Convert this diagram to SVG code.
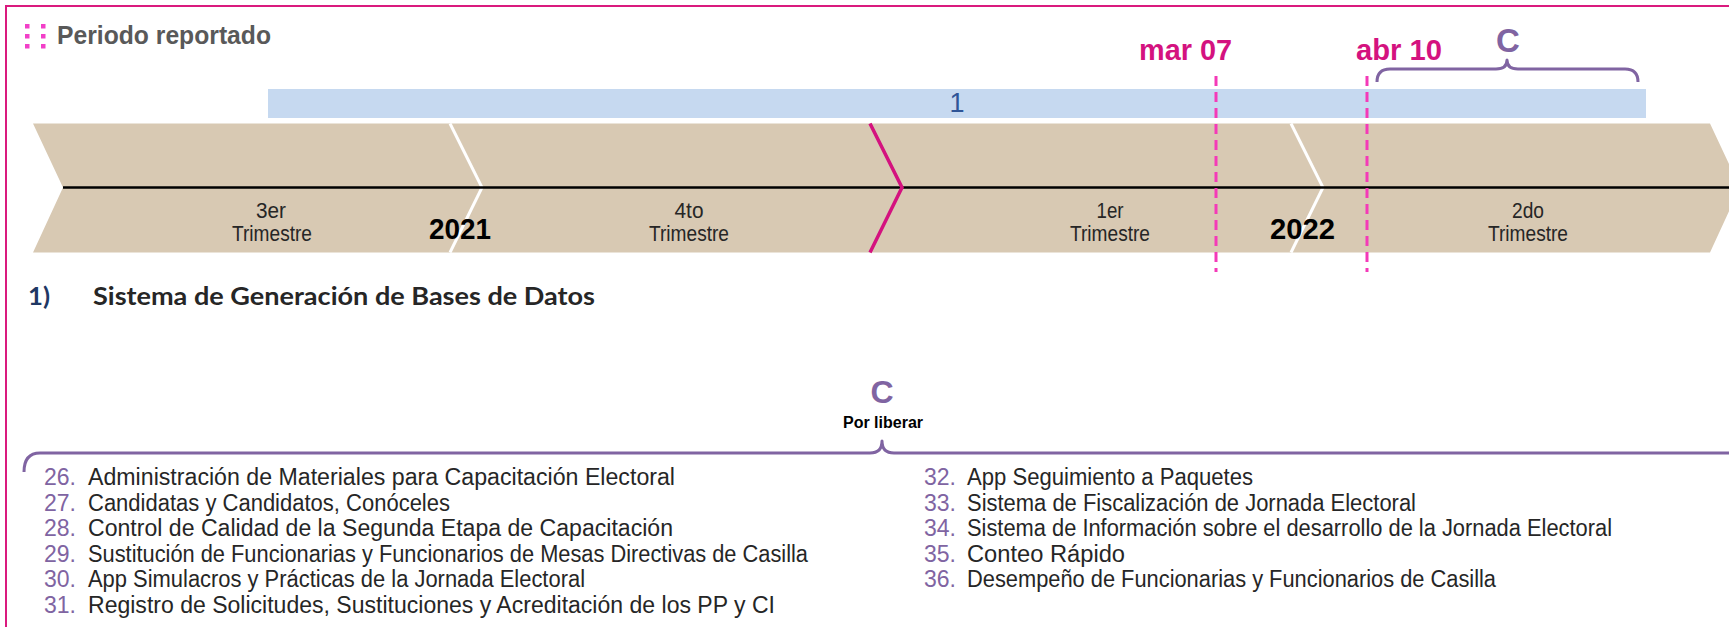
<svg xmlns="http://www.w3.org/2000/svg" width="1729" height="627" viewBox="0 0 1729 627">
<style>
.nar{font-family:"Liberation Sans Narrow","Liberation Sans",Arial,sans-serif;}
.tri{font-size:21.5px;fill:#262626;text-anchor:middle;}
.yr{font-size:30px;font-weight:bold;fill:#000;}
.date{font-size:29px;font-weight:bold;fill:#D4127F;font-family:"Liberation Sans Narrow","Liberation Sans",Arial,sans-serif;}
.num{font-size:23px;fill:#8064A2;}
.itm{font-size:23px;fill:#262626;}
.brace{fill:none;stroke:#8064A2;stroke-width:3;stroke-linejoin:round;}
.dash{stroke:#F43AB8;stroke-width:3;stroke-dasharray:10 6;}
.sep{fill:none;stroke:#fff;stroke-width:3;}
</style>
<rect x="0" y="0" width="1729" height="627" fill="#fff"/>
<rect x="6" y="6" width="1760" height="700" fill="none" stroke="#DA1A7E" stroke-width="2"/>

<g id="header">
  <g fill="#F23FC8">
    <rect x="25" y="24" width="4.5" height="4.5"/><rect x="25" y="34" width="4.5" height="4.5"/><rect x="25" y="44" width="4.5" height="4.5"/>
    <rect x="41" y="24" width="4.5" height="4.5"/><rect x="41" y="34" width="4.5" height="4.5"/><rect x="41" y="44" width="4.5" height="4.5"/>
  </g>
  <text x="57" y="44" class="nar" font-size="26" font-weight="bold" fill="#595959" textLength="214" lengthAdjust="spacingAndGlyphs">Periodo reportado</text>
</g>

<g id="bar1">
  <rect x="268" y="89" width="1378" height="29" fill="#C6D9F0"/>
  <text x="957" y="112" font-family="Liberation Sans, Arial, sans-serif" font-size="27" fill="#2F5597" text-anchor="middle">1</text>
</g>

<g id="timeline">
  <polygon points="33,123.5 1710,123.5 1740,187.5 1710,252.5 33,252.5 63,187.5" fill="#D8C9B3"/>
  <polyline class="sep" points="450,123.5 482,187.5 450,252.5"/>
  <polyline class="sep" points="1291,123.5 1323,187.5 1291,252.5"/>
  <line x1="63" y1="187.5" x2="1729" y2="187.5" stroke="#000" stroke-width="2.5"/>
  <polyline points="870,123.5 902,187.5 870,252.5" fill="none" stroke="#D4127F" stroke-width="3.5"/>
  <text class="nar tri" x="271" y="218" textLength="30" lengthAdjust="spacingAndGlyphs">3er</text>
  <text class="nar tri" x="272" y="241" textLength="80" lengthAdjust="spacingAndGlyphs">Trimestre</text>
  <text class="nar tri" x="689" y="218" textLength="29" lengthAdjust="spacingAndGlyphs">4to</text>
  <text class="nar tri" x="689" y="241" textLength="80" lengthAdjust="spacingAndGlyphs">Trimestre</text>
  <text class="nar tri" x="1110" y="218" textLength="27" lengthAdjust="spacingAndGlyphs">1er</text>
  <text class="nar tri" x="1110" y="241" textLength="80" lengthAdjust="spacingAndGlyphs">Trimestre</text>
  <text class="nar tri" x="1528" y="218" textLength="32" lengthAdjust="spacingAndGlyphs">2do</text>
  <text class="nar tri" x="1528" y="241" textLength="80" lengthAdjust="spacingAndGlyphs">Trimestre</text>
  <text class="nar yr" x="429" y="239" textLength="62" lengthAdjust="spacingAndGlyphs">2021</text>
  <text class="nar yr" x="1270" y="239" textLength="65" lengthAdjust="spacingAndGlyphs">2022</text>
</g>

<g id="markers">
  <line class="dash" x1="1216" y1="76" x2="1216" y2="272"/>
  <line class="dash" x1="1367" y1="76" x2="1367" y2="272"/>
  <text class="date" x="1139" y="60" textLength="93" lengthAdjust="spacingAndGlyphs">mar 07</text>
  <text class="date" x="1356" y="60" textLength="86" lengthAdjust="spacingAndGlyphs">abr 10</text>
</g>

<g id="phaseC-top">
  <text x="1508" y="52" font-family="Liberation Sans, Arial, sans-serif" font-size="33" font-weight="bold" fill="#8064A2" text-anchor="middle">C</text>
  <path class="brace" d="M1377,82 Q1377,69 1390,69 L1496,69 Q1507,69 1507,60 Q1507,69 1518,69 L1625,69 Q1638,69 1638,82"/>
</g>

<g id="section-title">
  <text x="28" y="305" font-family="Lato, 'Open Sans', sans-serif" font-size="24" font-weight="bold" fill="#1F3864" textLength="22" lengthAdjust="spacingAndGlyphs">1)</text>
  <text x="93" y="305" font-family="Lato, 'Open Sans', sans-serif" font-size="24" font-weight="bold" fill="#262626" textLength="502" lengthAdjust="spacingAndGlyphs">Sistema de Generación de Bases de Datos</text>
</g>

<g id="phaseC-bottom">
  <text x="882" y="403" font-family="Liberation Sans, Arial, sans-serif" font-size="32" font-weight="bold" fill="#8064A2" text-anchor="middle">C</text>
  <text x="883" y="428" font-family="Liberation Sans, Arial, sans-serif" font-size="16" font-weight="bold" fill="#000" text-anchor="middle">Por liberar</text>
  <path class="brace" d="M24,472 Q24,453 40,453 L870,453 Q882,453 882,441 Q882,453 894,453 L1740,453"/>
</g>

<g id="list-left" class="nar">
  <text class="num" x="44" y="485">26.</text><text class="itm" x="88" y="485" textLength="587" lengthAdjust="spacingAndGlyphs">Administración de Materiales para Capacitación Electoral</text>
  <text class="num" x="44" y="510.5">27.</text><text class="itm" x="88" y="510.5" textLength="362" lengthAdjust="spacingAndGlyphs">Candidatas y Candidatos, Conóceles</text>
  <text class="num" x="44" y="536">28.</text><text class="itm" x="88" y="536" textLength="585" lengthAdjust="spacingAndGlyphs">Control de Calidad de la Segunda Etapa de Capacitación</text>
  <text class="num" x="44" y="561.5">29.</text><text class="itm" x="88" y="561.5" textLength="720" lengthAdjust="spacingAndGlyphs">Sustitución de Funcionarias y Funcionarios de Mesas Directivas de Casilla</text>
  <text class="num" x="44" y="587">30.</text><text class="itm" x="88" y="587" textLength="497" lengthAdjust="spacingAndGlyphs">App Simulacros y Prácticas de la Jornada Electoral</text>
  <text class="num" x="44" y="612.5">31.</text><text class="itm" x="88" y="612.5" textLength="687" lengthAdjust="spacingAndGlyphs">Registro de Solicitudes, Sustituciones y Acreditación de los PP y CI</text>
</g>

<g id="list-right" class="nar">
  <text class="num" x="924" y="485">32.</text><text class="itm" x="967" y="485" textLength="286" lengthAdjust="spacingAndGlyphs">App Seguimiento a Paquetes</text>
  <text class="num" x="924" y="510.5">33.</text><text class="itm" x="967" y="510.5" textLength="449" lengthAdjust="spacingAndGlyphs">Sistema de Fiscalización de Jornada Electoral</text>
  <text class="num" x="924" y="536">34.</text><text class="itm" x="967" y="536" textLength="645" lengthAdjust="spacingAndGlyphs">Sistema de Información sobre el desarrollo de la Jornada Electoral</text>
  <text class="num" x="924" y="561.5">35.</text><text class="itm" x="967" y="561.5" textLength="158" lengthAdjust="spacingAndGlyphs">Conteo Rápido</text>
  <text class="num" x="924" y="587">36.</text><text class="itm" x="967" y="587" textLength="529" lengthAdjust="spacingAndGlyphs">Desempeño de Funcionarias y Funcionarios de Casilla</text>
</g>
</svg>
